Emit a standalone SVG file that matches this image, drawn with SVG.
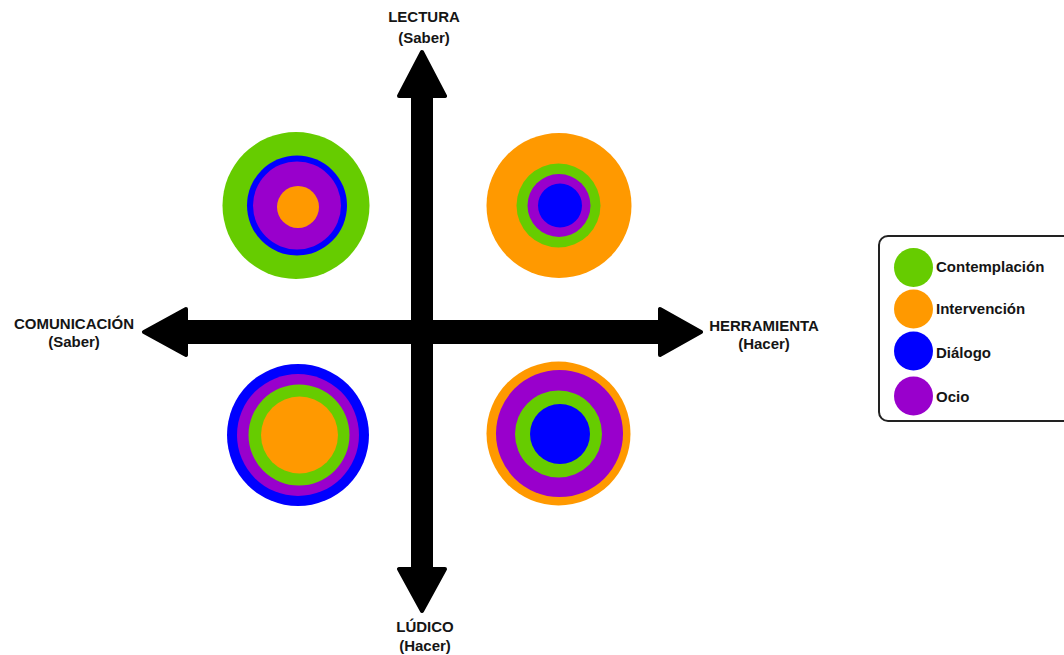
<svg xmlns="http://www.w3.org/2000/svg" width="1064" height="655" viewBox="0 0 1064 655">
<style>
.lbl{font-family:"Liberation Sans",Arial,sans-serif;font-weight:bold;font-size:15px;fill:#151515}
.ax{fill:#000;stroke:#000;stroke-width:4;stroke-linejoin:round}
.g{fill:#66CC00}.o{fill:#FF9900}.b{fill:#0000FF}.p{fill:#9900CC}
</style>
<rect width="1064" height="655" fill="#fff"/>
<g id="connectors">
<path class="ax" d="M413,96 L399,96 L422,52 L445,96 L431,96 L431,569 L445,569 L422,611 L399,569 L413,569 Z"/>
<path class="ax" d="M186,322 L186,309 L144,332 L186,355 L186,342 L660,342 L660,355 L701,332 L660,309 L660,322 Z"/>
</g>
<g id="axis-lectura"><text class="lbl" x="424" y="22" text-anchor="middle">LECTURA</text><text class="lbl" x="424" y="43" text-anchor="middle">(Saber)</text></g>
<g id="axis-ludico"><text class="lbl" x="425" y="632" text-anchor="middle">LÚDICO</text><text class="lbl" x="425" y="651" text-anchor="middle">(Hacer)</text></g>
<g id="axis-comunicacion"><text class="lbl" x="74" y="329" text-anchor="middle">COMUNICACIÓN</text><text class="lbl" x="74" y="347" text-anchor="middle">(Saber)</text></g>
<g id="axis-herramienta"><text class="lbl" x="764" y="331" text-anchor="middle">HERRAMIENTA</text><text class="lbl" x="764" y="349" text-anchor="middle">(Hacer)</text></g>
<g id="circle-top-left"><circle class="g" cx="296" cy="205.5" r="73.5"/><circle class="b" cx="297" cy="205.5" r="50"/><circle class="p" cx="297" cy="205.5" r="44"/><circle class="o" cx="298" cy="207" r="21"/></g>
<g id="circle-top-right"><circle class="o" cx="559" cy="205.5" r="72.5"/><circle class="g" cx="558.5" cy="205.5" r="42"/><circle class="p" cx="559" cy="205.5" r="31.5"/><circle class="b" cx="560" cy="205.5" r="22"/></g>
<g id="circle-bottom-left"><circle class="b" cx="298" cy="435" r="71"/><circle class="p" cx="298" cy="435" r="61"/><circle class="g" cx="299" cy="435" r="50.5"/><circle class="o" cx="299.5" cy="435" r="38.5"/></g>
<g id="circle-bottom-right"><circle class="o" cx="558.5" cy="433.5" r="72"/><circle class="p" cx="559.5" cy="433.5" r="63.5"/><circle class="g" cx="558.5" cy="434" r="43.5"/><circle class="b" cx="560" cy="434" r="30"/></g>
<g id="legend">
<rect x="879" y="236" width="200" height="185" rx="9" fill="#fff" stroke="#222" stroke-width="2"/>
<circle class="g" cx="913.5" cy="267.5" r="19.5"/><text class="lbl" x="936" y="272">Contemplación</text>
<circle class="o" cx="913.5" cy="309" r="19.5"/><text class="lbl" x="936" y="314">Intervención</text>
<circle class="b" cx="913.5" cy="351" r="19.5"/><text class="lbl" x="936" y="358">Diálogo</text>
<circle class="p" cx="913.5" cy="396" r="19.5"/><text class="lbl" x="936" y="402">Ocio</text>
</g>
</svg>
